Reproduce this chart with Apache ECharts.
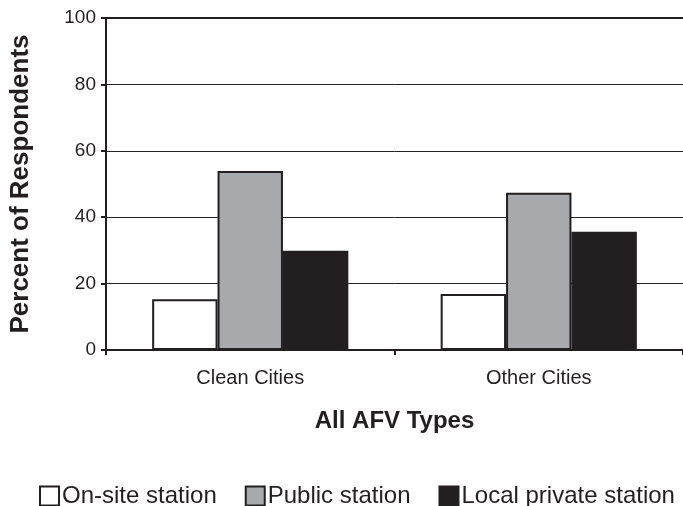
<!DOCTYPE html>
<html>
<head>
<meta charset="utf-8">
<script src="https://cdn.jsdelivr.net/npm/echarts@6/dist/echarts.min.js"></script>
<style>
html,body{margin:0;padding:0;background:#fff;}
#chart{width:683px;height:506px;}
</style>
</head>
<body>
<div id="chart"></div>
<script>
const categories = ['Clean Cities', 'Other Cities'];
const onSite = [15.3, 16.9];
const publicStation = [53.9, 47.4];
const localPrivate = [29.9, 35.6];
const seriesNames = ['On-site station', 'Public station', 'Local private station'];
const yTicks = [0, 20, 40, 60, 80, 100];

const FONT = "'Liberation Sans', Arial, Helvetica, sans-serif";
const INK = '#231f20';
const fills = ['#ffffff', '#a7a9ac', '#231f20'];
const values = [onSite, publicStation, localPrivate];

const chart = echarts.init(document.getElementById('chart'), null, {renderer: 'canvas'});
chart.setOption({
  animation: false,
  backgroundColor: '#ffffff',
  textStyle: {fontFamily: FONT, color: INK},
  grid: {left: 103, right: 0, top: 18, bottom: 156, containLabel: false},
  legend: {
    left: 34, top: 479,
    icon: 'rect',
    itemWidth: 19, itemHeight: 19,
    itemGap: 28,
    textStyle: {fontFamily: FONT, fontSize: 24, color: INK, padding: [0, 0, 0, -2]},
    data: seriesNames.map((n, i) => ({name: n, itemStyle: {color: fills[i], borderColor: INK, borderWidth: 2}}))
  },
  xAxis: [{
    type: 'category',
    data: categories,
    boundaryGap: true,
    name: 'All AFV Types',
    nameLocation: 'middle',
    nameGap: 59,
    nameTextStyle: {fontFamily: FONT, fontSize: 24, fontWeight: 'bold', color: INK},
    axisLine: {show: true, lineStyle: {color: INK, width: 2}},
    axisTick: {show: true, inside: false, length: 5, lineStyle: {color: INK, width: 2}},
    axisLabel: {fontFamily: FONT, fontSize: 20, color: INK, margin: 18}
  }, {
    type: 'category',
    data: categories,
    position: 'top',
    axisLine: {show: true, lineStyle: {color: INK, width: 2}},
    axisTick: {show: false},
    axisLabel: {show: false}
  }],
  yAxis: {
    type: 'value',
    min: yTicks[0], max: yTicks[yTicks.length - 1], interval: 20,
    name: 'Percent of Respondents',
    nameLocation: 'middle',
    nameGap: 72,
    nameTextStyle: {fontFamily: FONT, fontSize: 26, fontWeight: 'bold', color: INK},
    axisLine: {show: true, lineStyle: {color: INK, width: 2}},
    axisTick: {show: true, inside: false, length: 5, lineStyle: {color: INK, width: 2}},
    axisLabel: {fontFamily: FONT, fontSize: 19, color: INK, margin: 10},
    splitLine: {show: true, lineStyle: {color: INK, width: 1}}
  },
  series: seriesNames.map((n, i) => ({
    name: n,
    type: 'bar',
    data: values[i],
    barGap: '0%',
    barCategoryGap: '32%',
    itemStyle: {color: fills[i], borderColor: INK, borderWidth: 2}
  }))
});
</script>
</body>
</html>
